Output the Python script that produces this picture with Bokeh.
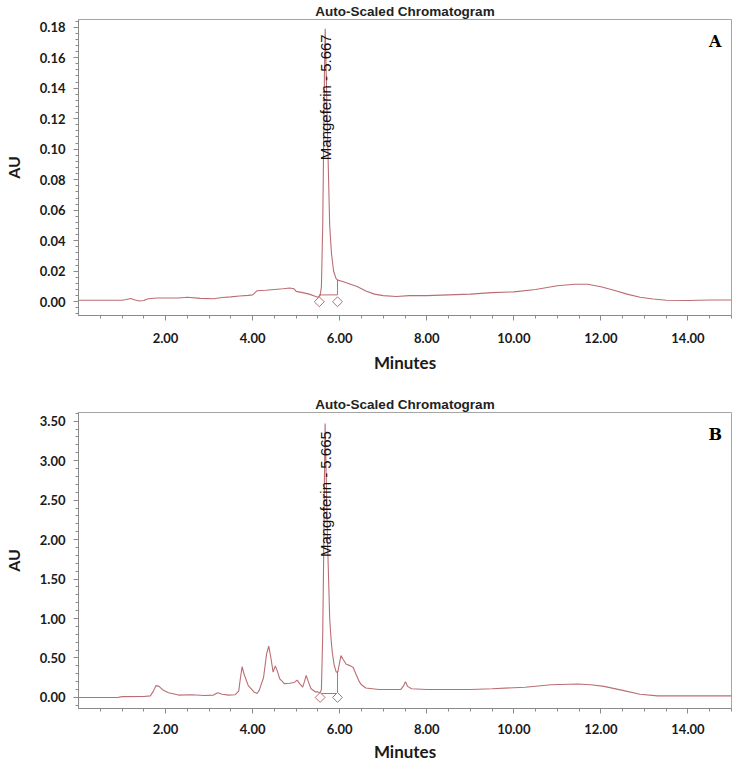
import numpy as np
from bokeh.plotting import figure
from bokeh.layouts import column
from bokeh.models import FixedTicker, NumeralTickFormatter, Range1d, Label
from bokeh.embed import file_html
from bokeh.resources import INLINE
from bokeh.core.properties import value

# ---------------- data ----------------
panel_titles = ["Auto-Scaled Chromatogram", "Auto-Scaled Chromatogram"]
panel_letters = ["A", "B"]
peak_labels = ["Mangeferin - 5.667", "Mangeferin - 5.665"]
peak_rt = [5.667, 5.665]

# Panel A (minutes, AU)
time_a = [0.0, 0.5, 1.0, 1.1, 1.2, 1.3, 1.4, 1.5, 1.6, 1.8, 2.0, 2.3, 2.5, 2.8, 3.1, 3.3,
          3.5, 3.7, 3.9, 4.0, 4.1, 4.3, 4.5, 4.7, 4.85, 4.95, 5.0, 5.15, 5.3, 5.45, 5.50,
          5.55, 5.58, 5.61, 5.63, 5.65, 5.667, 5.69, 5.72, 5.745, 5.77, 5.81, 5.86, 5.92,
          5.97, 6.05, 6.2, 6.4, 6.5, 6.6, 6.8, 7.0, 7.3, 7.6, 8.0, 8.5, 9.0, 9.5, 10.0,
          10.5, 11.0, 11.4, 11.7, 12.0, 12.3, 12.6, 12.9, 13.2, 13.5, 14.0, 14.5, 15.0]
au_a = [0.001, 0.001, 0.001, 0.0015, 0.0022, 0.0012, 0.0005, 0.0008, 0.002, 0.0025, 0.0025,
        0.0025, 0.003, 0.0022, 0.002, 0.0028, 0.0032, 0.0038, 0.0042, 0.0045, 0.0072, 0.0075,
        0.008, 0.0085, 0.009, 0.0085, 0.0068, 0.006, 0.005, 0.0035, 0.003,
        0.004, 0.010, 0.050, 0.100, 0.150, 0.179, 0.150, 0.110, 0.080, 0.050, 0.032, 0.020,
        0.015, 0.014, 0.0135, 0.012, 0.010, 0.0085, 0.007, 0.005, 0.004, 0.0035, 0.004,
        0.004, 0.0045, 0.005, 0.006, 0.0065, 0.008, 0.0105, 0.0115, 0.0115, 0.0098, 0.0075,
        0.005, 0.003, 0.0018, 0.001, 0.0008, 0.0012, 0.0012]

# Panel B (minutes, AU)
time_b = [0.0, 0.9, 1.0, 1.5, 1.65, 1.72, 1.78, 1.85, 1.95, 2.07, 2.3, 2.6, 2.9, 3.1, 3.2,
          3.3, 3.45, 3.6, 3.68, 3.72, 3.76, 3.8, 3.9, 4.03, 4.1, 4.15, 4.25, 4.32, 4.37,
          4.42, 4.47, 4.52, 4.57, 4.62, 4.73, 4.85, 4.96, 5.02, 5.08, 5.15, 5.19, 5.23, 5.28,
          5.34, 5.45, 5.50, 5.55, 5.58, 5.61, 5.63, 5.65, 5.665, 5.69, 5.72, 5.745, 5.77,
          5.80, 5.83, 5.87, 5.92, 5.96, 6.00, 6.03, 6.08, 6.15, 6.25, 6.31, 6.37, 6.45, 6.5,
          6.6, 6.9, 7.2, 7.4, 7.47, 7.51, 7.56, 7.65, 8.0, 9.0, 9.5, 10.26, 10.86, 11.47,
          11.77, 12.07, 12.5, 12.9, 13.3, 13.8, 15.0]
au_b = [0.0, 0.0, 0.01, 0.012, 0.02, 0.08, 0.15, 0.14, 0.09, 0.06, 0.03, 0.035, 0.025, 0.03,
        0.06, 0.04, 0.03, 0.035, 0.08, 0.25, 0.39, 0.30, 0.15, 0.07, 0.05, 0.09, 0.25, 0.55,
        0.65, 0.50, 0.32, 0.40, 0.33, 0.24, 0.175, 0.18, 0.19, 0.22, 0.175, 0.13, 0.20, 0.28,
        0.20, 0.11, 0.07, 0.07, 0.06, 0.10, 0.8, 1.7, 2.8, 3.47, 2.8, 2.0, 1.5, 1.0,
        0.75, 0.57, 0.42, 0.32, 0.33, 0.45, 0.53, 0.48, 0.42, 0.40, 0.38, 0.30, 0.20, 0.16,
        0.12, 0.10, 0.10, 0.10, 0.15, 0.20, 0.14, 0.11, 0.10, 0.10, 0.11, 0.13, 0.16, 0.17,
        0.16, 0.14, 0.09, 0.04, 0.02, 0.02, 0.02]

# integration marks: start, end, baseline level
integ_a = dict(start=5.53, end=5.95, base=0.0045)
integ_b = dict(start=5.55, end=5.95, base=0.05)

y_ranges = [(-0.009, 0.185), (-0.14, 3.61)]
y_major = [[round(0.02 * i, 2) for i in range(10)], [round(0.5 * i, 2) for i in range(8)]]
y_minor = [[round(-0.008 + 0.004 * i, 3) for i in range(49)],
           [round(-0.1 + 0.1 * i, 2) for i in range(38)]]
x_major = [2, 4, 6, 8, 10, 12, 14]
x_minor = [0.5 * i for i in range(1, 31) if (0.5 * i) not in x_major]

LINE = "#bb6d72"
AXC = "#8a8a8a"

# (height, min_border_top, min_border_bottom, text offset frac, label standoff, axis label standoff)
panel_geom = [(375, 17, 60, 0.05, 12, 6), (389, 37, 55, 0.063, 10, 4)]


def make_panel(i, t, au, integ):
    h, bt, bb, tfrac, lso, aso = panel_geom[i]
    p = figure(width=733, height=h, output_backend="svg", toolbar_location=None,
               x_range=Range1d(0, 15.0), y_range=Range1d(*y_ranges[i]),
               min_border_left=74, min_border_right=2, min_border_top=bt,
               min_border_bottom=bb)
    p.title.text = panel_titles[i]
    p.title.align = "center"
    p.title.offset = -13
    p.title.text_font = "Liberation Sans"
    p.title.text_font_size = "13.5px"
    p.title.text_font_style = "bold"
    p.title.text_color = "#222222"
    p.title.standoff = 2
    p.grid.visible = False
    p.outline_line_color = "#a5a5a5"
    p.background_fill_color = "white"
    p.border_fill_color = "white"

    p.line(t, au, line_color=LINE, line_width=1.1)

    # integration baseline, drops and markers
    ys = float(np.interp(integ["start"], t, au))
    ye = float(np.interp(integ["end"], t, au))
    p.segment(x0=[integ["start"], integ["end"], integ["start"]],
              y0=[ys, ye, integ["base"]],
              x1=[integ["start"], integ["end"], integ["end"]],
              y1=[integ["base"], integ["base"], integ["base"]],
              line_color=LINE, line_width=1)
    p.scatter(x=[integ["start"], integ["end"]], y=[0, 0], marker="square",
              angle=np.pi / 4, size=7, fill_color="white", line_color=LINE,
              line_width=1)

    y0, y1 = y_ranges[i]
    span = y1 - y0
    p.text(x=[peak_rt[i]], y=[y1 - tfrac * span], text=[peak_labels[i]], angle=np.pi / 2,
           text_align="right", text_baseline="middle",
           text_font=value("Liberation Sans"), text_font_size="15px", text_color="#111111")

    p.add_layout(Label(x=15.0 * 0.975, y=y1 - 0.075 * span, text=panel_letters[i],
                       text_font="DejaVu Serif", text_font_style="bold",
                       text_font_size="16px", text_align="center",
                       text_baseline="middle", text_color="black"))

    xa = p.xaxis[0]
    xa.ticker = FixedTicker(ticks=x_major, minor_ticks=x_minor)
    xa.formatter = NumeralTickFormatter(format="0.00")
    xa.axis_label = "Minutes"
    ya = p.yaxis[0]
    ya.ticker = FixedTicker(ticks=y_major[i], minor_ticks=y_minor[i])
    ya.formatter = NumeralTickFormatter(format="0.00")
    ya.axis_label = "AU"
    for ax in (xa, ya):
        ax.axis_line_color = AXC
        ax.major_tick_line_color = AXC
        ax.minor_tick_line_color = AXC
        ax.major_tick_in = 0
        ax.minor_tick_in = 0
        ax.major_tick_out = 5
        ax.minor_tick_out = 3
        ax.major_label_text_font = "Lato"
        ax.major_label_text_font_style = "bold"
        ax.major_label_text_font_size = "13px"
        ax.major_label_text_color = "#1a1a1a"
        ax.axis_label_text_font = "Lato"
        ax.axis_label_text_font_style = "bold"
        ax.axis_label_text_color = "#1a1a1a"
    xa.major_label_standoff = lso
    xa.axis_label_standoff = aso
    xa.axis_label_text_font_size = "17px"
    ya.major_label_standoff = 8
    ya.axis_label_standoff = 14
    ya.axis_label_text_font_size = "16px"
    return p


p1 = make_panel(0, time_a, au_a, integ_a)
p2 = make_panel(1, time_b, au_b, integ_b)
layout = column(p1, p2, spacing=0)

open("out.html", "w").write(file_html(layout, INLINE))
